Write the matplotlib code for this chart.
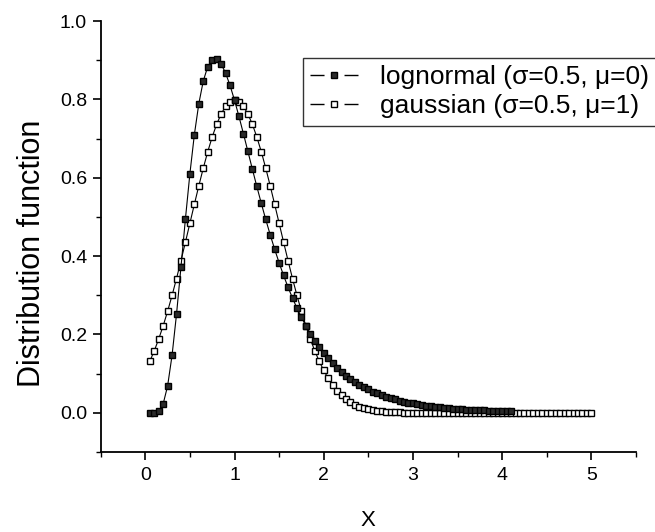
import matplotlib
matplotlib.use("Agg")
import matplotlib.pyplot as plt
from matplotlib.ticker import MultipleLocator
from matplotlib.lines import Line2D
from matplotlib.legend_handler import HandlerTuple

plt.rcParams['font.family'] = ['Liberation Sans', 'DejaVu Sans']

# x sampling (step 0.05)
x_gauss = [round(0.05 * i, 2) for i in range(1, 101)]   # 0.05 .. 5.00
x_logn = [round(0.05 * i, 2) for i in range(1, 83)]     # 0.05 .. 4.10

logn_vals = [
    0.0000, 0.0002, 0.0040, 0.0225, 0.0683, 0.1465, 0.2516, 0.3721, 0.4953, 0.6104,
    0.7098, 0.7891, 0.8469, 0.8837, 0.9016, 0.9028, 0.8904, 0.8671, 0.8355, 0.7979,
    0.7563, 0.7123, 0.6672, 0.6221, 0.5778, 0.5348, 0.4936, 0.4544, 0.4175, 0.3829,
    0.3506, 0.3206, 0.2928, 0.2672, 0.2437, 0.2221, 0.2023, 0.1842, 0.1677, 0.1526,
    0.1389, 0.1264, 0.1150, 0.1046, 0.0952, 0.0866, 0.0789, 0.0718, 0.0654, 0.0595,
    0.0542, 0.0494, 0.0451, 0.0411, 0.0375, 0.0342, 0.0312, 0.0285, 0.0260, 0.0238,
    0.0218, 0.0199, 0.0182, 0.0167, 0.0153, 0.0140, 0.0128, 0.0117, 0.0108, 0.0099,
    0.0091, 0.0083, 0.0076, 0.0070, 0.0065, 0.0059, 0.0055, 0.0050, 0.0046, 0.0043,
    0.0040, 0.0037,
]

gauss_vals = [
    0.1313, 0.1579, 0.1881, 0.2218, 0.2591, 0.2995, 0.3428, 0.3884, 0.4357, 0.4839,
    0.5322, 0.5794, 0.6245, 0.6665, 0.7041, 0.7365, 0.7628, 0.7821, 0.7939, 0.7979,
    0.7939, 0.7821, 0.7628, 0.7365, 0.7041, 0.6665, 0.6245, 0.5794, 0.5322, 0.4839,
    0.4357, 0.3884, 0.3428, 0.2995, 0.2591, 0.2218, 0.1881, 0.1579, 0.1313, 0.1080,
    0.0880, 0.0710, 0.0566, 0.0448, 0.0351, 0.0272, 0.0208, 0.0158, 0.0119, 0.0089,
    0.0065, 0.0048, 0.0034, 0.0025, 0.0017, 0.0012, 0.0008, 0.0006, 0.0004, 0.0003,
    0.0002, 0.0001, 0.0001, 0.0001, 0.0000, 0.0000, 0.0000, 0.0000, 0.0000, 0.0000,
    0.0000, 0.0000, 0.0000, 0.0000, 0.0000, 0.0000, 0.0000, 0.0000, 0.0000, 0.0000,
    0.0000, 0.0000, 0.0000, 0.0000, 0.0000, 0.0000, 0.0000, 0.0000, 0.0000, 0.0000,
    0.0000, 0.0000, 0.0000, 0.0000, 0.0000, 0.0000, 0.0000, 0.0000, 0.0000, 0.0000,
]

labels = ["lognormal (\u03c3=0.5, \u03bc=0)", "gaussian (\u03c3=0.5, \u03bc=1)"]
x_ticks = [0, 1, 2, 3, 4, 5]
y_ticks = [0.0, 0.2, 0.4, 0.6, 0.8, 1.0]
y_ticklabels = ["0.0", "0.2", "0.4", "0.6", "0.8", "1.0"]

fig = plt.figure(figsize=(6.55, 5.32), dpi=100)
ax = fig.add_axes([0.1537, 0.1504, 0.8173, 0.8101])

ax.plot(x_logn, logn_vals, '-', color='black', lw=0.8, marker='s', markersize=5,
        markerfacecolor='#2a2a2a', markeredgecolor='black', markeredgewidth=1.0,
        zorder=3)
ax.plot(x_gauss, gauss_vals, '-', color='black', lw=0.8, marker='s', markersize=5,
        markerfacecolor='white', markeredgecolor='black', markeredgewidth=1.0,
        zorder=2)

ax.set_xlim(-0.5, 5.5)
ax.set_ylim(-0.1, 1.0)
ax.set_xticks(x_ticks)
ax.set_yticks(y_ticks)
ax.set_yticklabels(y_ticklabels)
ax.xaxis.set_minor_locator(MultipleLocator(0.5))
ax.yaxis.set_minor_locator(MultipleLocator(0.1))

for s in ['top', 'right']:
    ax.spines[s].set_visible(False)
for s in ['left', 'bottom']:
    ax.spines[s].set_linewidth(1.3)

ax.tick_params(which='major', direction='out', length=5.8, width=1.2, labelsize=14, pad=4)
ax.tick_params(axis='x', which='major', pad=5)
ax.tick_params(which='minor', direction='out', length=3.6, width=1.0)

ax.set_ylabel("Distribution function", fontsize=22)
ax.yaxis.set_label_coords(-0.1, 0.46)
ax.set_xlabel("X", fontsize=16, labelpad=19)

# legend handles: line - marker - line (Origin style)
def handle(face):
    ln = Line2D([], [], color='black', lw=1.0, dashes=(10.1, 14.4))
    mk = Line2D([], [], ls='none', marker='s', markersize=4,
                markerfacecolor=face, markeredgecolor='black', markeredgewidth=1.0)
    return (ln, mk)

leg = ax.legend([handle('#2a2a2a'), handle('white')], labels,
                handler_map={tuple: HandlerTuple(ndivide=1, pad=0)},
                loc='upper right', bbox_to_anchor=((656 - 100.7) / 535.3, (452 - 58) / 431),
                fontsize=19, frameon=True, fancybox=False, edgecolor='black',
                handlelength=1.79, handletextpad=0.84, borderpad=0.27,
                labelspacing=0.2, borderaxespad=0)
leg.get_frame().set_linewidth(1.0)

fig.savefig("out.png", dpi=100)
